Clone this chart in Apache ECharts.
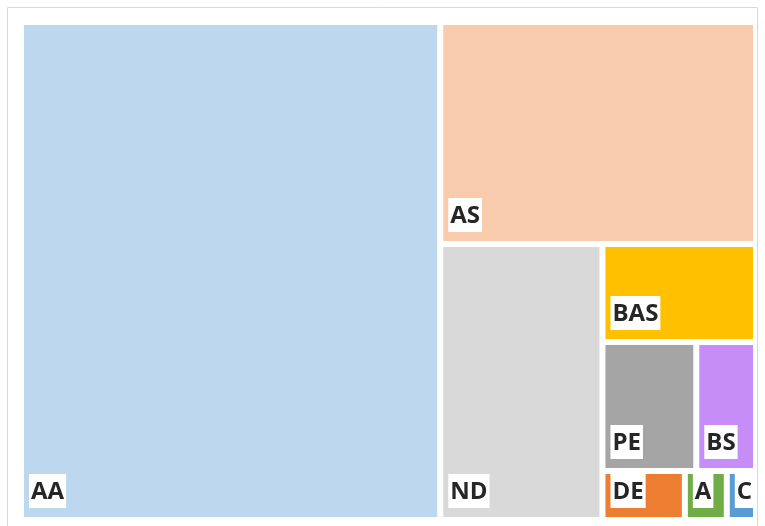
<!DOCTYPE html>
<html>
<head>
<meta charset="utf-8">
<script src="https://cdn.jsdelivr.net/npm/echarts@6/dist/echarts.min.js"></script>
<style>
  html, body { margin: 0; padding: 0; background: #fff; }
  #chart { width: 765px; height: 526px; }
</style>
</head>
<body>
<div id="chart"></div>
<script>
(function () {
    'use strict';

    // share of each category
    var names  = ['AA', 'AS', 'ND', 'BAS', 'PE', 'BS', 'DE', 'A', 'C'];
    var values = [56.9, 19.1, 12.2, 4.1, 3.3, 2.1, 1.1, 0.56, 0.39];
    var colors = ['#BDD7EE', '#F8CBAD', '#D9D9D9', '#FFC000', '#A5A5A5',
                  '#C78DF7', '#ED7D31', '#70AD47', '#5B9BD5'];

    var LABEL_H = 40;   // height of the white label tag

    var data = names.map(function (n, i) {
        return { name: n, value: values[i], itemStyle: { color: colors[i] } };
    });

    var chart = echarts.init(document.getElementById('chart'));
    chart.setOption({
        animation: false,
        graphic: [{
            type: 'rect',
            shape: { x: 7.5, y: 7.5, width: 750, height: 540 },
            style: { fill: 'none', stroke: '#d9d9d9', lineWidth: 1 },
            silent: true
        }],
        series: [{
            type: 'treemap',
            left: 24,
            top: 25,
            width: 729,
            height: 492,
            squareRatio: 1.13,
            roam: false,
            nodeClick: false,
            breadcrumb: { show: false },
            itemStyle: { gapWidth: 6, borderWidth: 0 },
            label: {
                show: true,
                position: 'insideTopLeft',
                distance: 0,
                formatter: '{t|{b}}',
                overflow: 'none',
                rich: {
                    t: {
                        fontFamily: 'Open Sans',
                        fontWeight: 'bold',
                        fontSize: 24,
                        lineHeight: 30,
                        color: '#262626',
                        backgroundColor: '#fff',
                        padding: [6, 2, 4, 2]
                    }
                }
            },
            // tags sit at the bottom-left corner of each tile
            labelLayout: function (p) {
                return { dx: 0, dy: p.rect.height - LABEL_H - 6 };
            },
            data: data
        }]
    });
})();
</script>
</body>
</html>
